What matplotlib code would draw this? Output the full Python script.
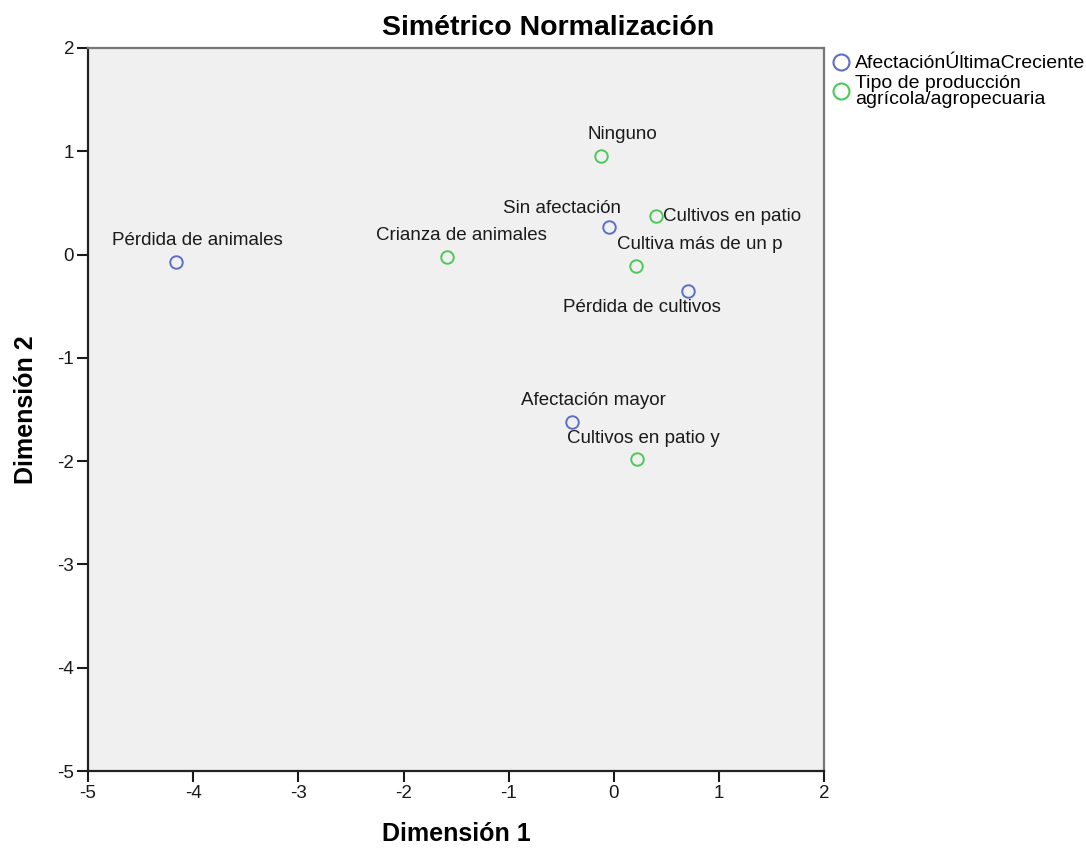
import matplotlib.pyplot as plt
from matplotlib.lines import Line2D

plt.rcParams['font.family'] = ['Liberation Sans', 'DejaVu Sans']
plt.rcParams['axes.unicode_minus'] = False

# category points (dimension 1, dimension 2)
afect_labels = ["Pérdida de animales", "Sin afectación", "Pérdida de cultivos", "Afectación mayor"]
afect_x = [-4.16, -0.05, 0.70, -0.40]
afect_y = [-0.07, 0.27, -0.35, -1.62]

prod_labels = ["Crianza de animales", "Ninguno", "Cultivos en patio",
               "Cultiva más de un p", "Cultivos en patio y"]
prod_x = [-1.59, -0.12, 0.40, 0.21, 0.22]
prod_y = [-0.02, 0.95, 0.37, -0.11, -1.98]

# label placement (offset in pixels, alignment) like the SPSS output
afect_off = [(21, 21, 'center'), (-47, 18, 'center'), (-46, -17, 'center'), (22, 21, 'center')]
prod_off = [(15, 21, 'center'), (21, 22, 'center'), (7, 0, 'left'),
            (64, 21, 'center'), (6, 21, 'center')]

blue = '#5b6fc8'
green = '#4cc95a'

fig = plt.figure(figsize=(10.86, 8.48), dpi=100)
ax = fig.add_axes([0.081, 0.0908, 0.678, 0.8526])
ax.set_facecolor('#f0f0f0')

ax.plot(afect_x, afect_y, 'o', ms=9, mfc='none', mec=blue, mew=1.4, zorder=3)
ax.plot(prod_x, prod_y, 'o', ms=9, mfc='none', mec=green, mew=1.4, zorder=3)

for lab, x, y, (dx, dy, ha) in zip(afect_labels, afect_x, afect_y, afect_off):
    ax.annotate(lab, (x, y), xytext=(dx, dy), textcoords='offset pixels',
                ha=ha, va='center', fontsize=13.5, color='#1a1a1a')
for lab, x, y, (dx, dy, ha) in zip(prod_labels, prod_x, prod_y, prod_off):
    ax.annotate(lab, (x, y), xytext=(dx, dy), textcoords='offset pixels',
                ha=ha, va='center', fontsize=13.5, color='#1a1a1a')

ax.set_xlim(-5, 2)
ax.set_ylim(-5, 2)
ax.set_xticks(range(-5, 3))
ax.set_yticks(range(-5, 3))
ax.tick_params(direction='out', length=8, width=1.5, labelsize=13.5, colors='#1a1a1a', pad=2)
for side in ['left', 'bottom']:
    ax.spines[side].set_linewidth(1.6)
    ax.spines[side].set_color('#222222')
for side in ['top', 'right']:
    ax.spines[side].set_linewidth(1.6)
    ax.spines[side].set_color('#777777')

ax.set_xlabel('Dimensión 1', fontsize=18, fontweight='bold')
ax.set_ylabel('Dimensión 2', fontsize=18, fontweight='bold', labelpad=14)
ax.xaxis.set_label_coords(0.5, -0.071)
fig.text(0.505, 0.967, 'Simétrico Normalización', ha='center', va='center',
         fontsize=20.5, fontweight='bold')

handles = [Line2D([], [], marker='o', ls='none', ms=11.5, mfc='none', mec=blue, mew=1.5),
           Line2D([], [], marker='o', ls='none', ms=11.5, mfc='none', mec=green, mew=1.5)]
leg = ax.legend(handles, ['AfectaciónÚltimaCreciente', 'Tipo de producción\nagrícola/agropecuaria'],
                loc='upper left', bbox_to_anchor=(1.002, 0.996), frameon=False, fontsize=14,
                handletextpad=0.1, handlelength=1.2, borderaxespad=0.0, borderpad=0.2,
                labelspacing=0.15)
for t in leg.get_texts():
    t.set_linespacing(0.9)

fig.savefig('out.png', dpi=100)
